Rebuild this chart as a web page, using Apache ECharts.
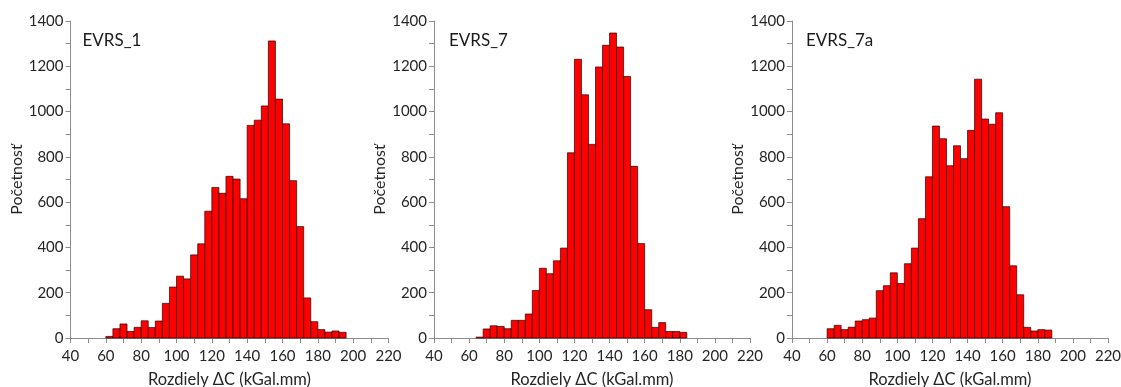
<!DOCTYPE html>
<html>
<head>
<meta charset="utf-8">
<script src="https://cdn.jsdelivr.net/npm/echarts@6/dist/echarts.min.js"></script>
<style>
  html, body { margin: 0; padding: 0; background: #fff; }
  #chart { width: 1121px; height: 387px; }
</style>
</head>
<body>
<div id="chart"></div>
<script>
// left edges of the 4-unit histogram bins
const binStarts = [60, 64, 68, 72, 76, 80, 84, 88, 92, 96, 100, 104, 108, 112, 116, 120, 124,
  128, 132, 136, 140, 144, 148, 152, 156, 160, 164, 168, 172, 176, 180, 184, 188, 192]
const binWidth = 4

const countsEvrs1 = [7, 41, 62, 29, 47, 76, 46, 75, 153, 225, 273, 261, 367, 416, 560, 665, 639,
  714, 702, 615, 939, 962, 1025, 1312, 1055, 946, 695, 492, 177, 72, 37, 26, 31, 25]
const countsEvrs7 = [0, 4, 40, 54, 51, 41, 78, 78, 106, 210, 308, 284, 341, 397, 818, 1231, 1074,
  855, 1197, 1293, 1347, 1285, 1155, 758, 417, 125, 47, 68, 29, 29, 25, 0, 0, 0]
const countsEvrs7a = [41, 56, 37, 48, 75, 81, 88, 209, 231, 288, 241, 328, 397, 527, 712, 936, 880,
  761, 849, 792, 917, 1143, 967, 944, 995, 580, 319, 191, 47, 31, 37, 35, 0, 0]

const panelNames = ['EVRS_1', 'EVRS_7', 'EVRS_7a']
const allCounts = [countsEvrs1, countsEvrs7, countsEvrs7a]

const FONT = 'Lato'
const AXIS_GREY = '#8c8c8c'
const gridLefts = [70.5, 434, 792]
const gridWidths = [318, 316, 316]

const chart = echarts.init(document.getElementById('chart'))

const grids = gridLefts.map((left, i) => ({
  left: left, top: 21, width: gridWidths[i], height: 317,
  outerBoundsMode: 'none', containLabel: false
}))

const xAxes = grids.map((g, i) => ({
  type: 'value',
  gridIndex: i,
  min: 40,
  max: 220,
  interval: 20,
  name: 'Rozdiely ΔC (kGal.mm)',
  nameLocation: 'middle',
  nameGap: 33,
  nameTextStyle: { fontFamily: FONT, fontSize: 16.5, color: '#262626' },
  axisLine: { onZero: false, lineStyle: { color: AXIS_GREY, width: 1 } },
  axisTick: { show: true, length: 5, lineStyle: { color: AXIS_GREY } },
  minorTick: { show: true, splitNumber: 2, length: 5, lineStyle: { color: AXIS_GREY } },
  axisLabel: { fontFamily: FONT, fontSize: 15, color: '#262626', margin: 11 },
  splitLine: { show: false }
}))

const yAxes = grids.map((g, i) => ({
  type: 'value',
  gridIndex: i,
  min: 0,
  max: 1400,
  interval: 200,
  name: 'Početnosť',
  nameLocation: 'middle',
  nameGap: 42,
  nameTextStyle: { fontFamily: FONT, fontSize: 16, color: '#262626' },
  axisLine: { show: true, lineStyle: { color: AXIS_GREY, width: 1 } },
  axisTick: { show: true, length: 5, lineStyle: { color: AXIS_GREY } },
  minorTick: { show: true, splitNumber: 2, length: 5, lineStyle: { color: AXIS_GREY } },
  axisLabel: { fontFamily: FONT, fontSize: 15, color: '#262626', margin: 7, formatter: v => String(v) },
  splitLine: { show: false }
}))

const series = allCounts.map((counts, i) => ({
  type: 'custom',
  xAxisIndex: i,
  yAxisIndex: i,
  data: binStarts.map((x, k) => [x, counts[k]]).filter(d => d[1] > 0),
  renderItem: (params, api) => {
    const x0 = api.value(0)
    const y = api.value(1)
    const topLeft = api.coord([x0, y])
    const bottomRight = api.coord([x0 + binWidth, 0])
    return {
      type: 'rect',
      shape: {
        x: topLeft[0],
        y: topLeft[1],
        width: bottomRight[0] - topLeft[0],
        height: bottomRight[1] - topLeft[1]
      },
      style: { fill: '#ff0000', stroke: '#2a0000', lineWidth: 0.7 }
    }
  }
}))

const titles = panelNames.map((name, i) => ({
  text: name,
  left: gridLefts[i] + [12, 15, 14][i],
  top: 32,
  padding: 0,
  textStyle: { fontFamily: FONT, fontSize: 17, fontWeight: 'normal', color: '#1a1a1a' }
}))

chart.setOption({
  animation: false,
  title: titles,
  grid: grids,
  xAxis: xAxes,
  yAxis: yAxes,
  series: series
})
</script>
</body>
</html>
